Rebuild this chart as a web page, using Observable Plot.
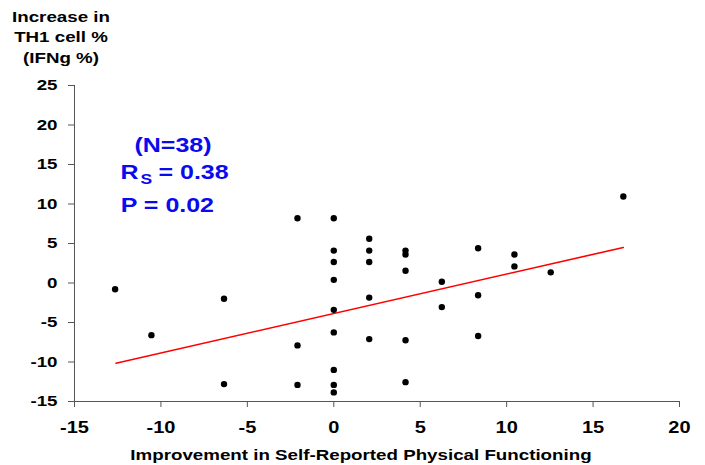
<!DOCTYPE html>
<html><head><meta charset="utf-8">
<script src="https://cdn.jsdelivr.net/npm/d3@7"></script>
<script src="https://cdn.jsdelivr.net/npm/@observablehq/plot@0.6"></script>
<style>body{margin:0;background:#fff}</style>
</head><body><div id="chart"></div>
<script>
// Data
const improvement = [-12.65, -10.55, -6.35, -6.35, -2.1, -2.1, -2.1,
  0, 0, 0, 0, 0, 0, 0, 0, 0,
  2.05, 2.05, 2.05, 2.05, 2.05,
  4.15, 4.15, 4.15, 4.15, 4.15,
  6.25, 6.25,
  8.35, 8.35, 8.35,
  10.45, 10.45,
  12.55,
  16.75];
const th1Increase = [-0.8, -6.6, -2.0, -12.8, 8.2, -7.9, -12.9,
  8.2, 4.1, 2.65, 0.4, -3.4, -6.25, -11.0, -12.9, -13.85,
  5.6, 4.1, 2.65, -1.85, -7.1,
  4.1, 3.6, 1.55, -7.25, -12.55,
  0.15, -3.05,
  4.4, -1.55, -6.7,
  3.6, 2.1,
  1.35,
  10.95];
const fitX = [-12.6, 16.75];
const fitY = [-10.15, 4.5];
const xTicks = [-15, -10, -5, 0, 5, 10, 15, 20];
const yTicks = [-15, -10, -5, 0, 5, 10, 15, 20, 25];
const yTitle = "Increase in\nTH1 cell %\n(IFNg %)";
const xTitle = "Improvement in Self-Reported Physical Functioning";
const statN = "(N=38)";
const statR = "R";
const statRsub = "S";
const statRval = "= 0.38";
const statP = "P = 0.02";

const points = improvement.map((x, i) => ({x, y: th1Increase[i]}));
const fit = fitX.map((x, i) => ({x, y: fitY[i]}));

const blue = "#0a0aee";
const axisGray = "#555";
const bold = {fontWeight: "bold"};
const hyphenFormat = d => String(d);

const chart = Plot.plot({
  width: 705, height: 465,
  marginLeft: 74, marginRight: 26, marginTop: 85, marginBottom: 64,
  style: {fontFamily: "'Liberation Sans', Arial, sans-serif", background: "white", color: "black"},
  x: {domain: [-15, 20]},
  y: {domain: [-15, 25]},
  marks: [
    Plot.ruleX([-15], {stroke: axisGray, strokeWidth: 1}),
    Plot.ruleY([-15], {stroke: axisGray, strokeWidth: 1}),
    Plot.axisX({ticks: xTicks, tickFormat: hyphenFormat, tickSize: 6, tickPadding: 14, fontSize: 16, ...bold, stroke: axisGray, fill: "black", label: null}),
    Plot.axisY({ticks: yTicks, tickFormat: hyphenFormat, tickSize: 6, tickPadding: 11, fontSize: 15, ...bold, stroke: axisGray, fill: "black", label: null}),
    Plot.line(fit, {x: "x", y: "y", stroke: "#ff0000", strokeWidth: 1.6}),
    Plot.dot(points, {x: "x", y: "y", r: 3.2, fill: "black", stroke: "none"}),
    Plot.text([yTitle], {text: d => d, frameAnchor: "top-left", dx: -13.5, dy: -78.4, textAnchor: "middle", lineAnchor: "top", lineHeight: 1.37, fontSize: 15, ...bold, fill: "black"}),
    Plot.text([xTitle], {text: d => d, frameAnchor: "bottom", dx: -16, dy: 53.2, textAnchor: "middle", lineAnchor: "middle", fontSize: 15, ...bold, fill: "black"}),
    Plot.text([statN], {text: d => d, frameAnchor: "top-left", dx: 98.5, dy: 60.3, textAnchor: "middle", lineAnchor: "middle", fontSize: 20, ...bold, fill: blue}),
    Plot.text([statR], {text: d => d, frameAnchor: "top-left", dx: 46, dy: 86.9, textAnchor: "start", lineAnchor: "middle", fontSize: 20, ...bold, fill: blue}),
    Plot.text([statRsub], {text: d => d, frameAnchor: "top-left", dx: 66, dy: 93.8, textAnchor: "start", lineAnchor: "middle", fontSize: 14, ...bold, fill: blue}),
    Plot.text([statRval], {text: d => d, frameAnchor: "top-left", dx: 84, dy: 86.9, textAnchor: "start", lineAnchor: "middle", fontSize: 20, ...bold, fill: blue}),
    Plot.text([statP], {text: d => d, frameAnchor: "top-left", dx: 46.2, dy: 120.3, textAnchor: "start", lineAnchor: "middle", fontSize: 20, ...bold, fill: blue})
  ]
});

// The reference's lettering is horizontally wide; stretch each label around its anchor.
chart.querySelectorAll("text").forEach(t => {
  const tr = t.getAttribute("transform") || "";
  t.setAttribute("transform", (tr + " scale(1.25,1)").trim());
});

document.getElementById("chart").appendChild(chart);
</script>
</body></html>
